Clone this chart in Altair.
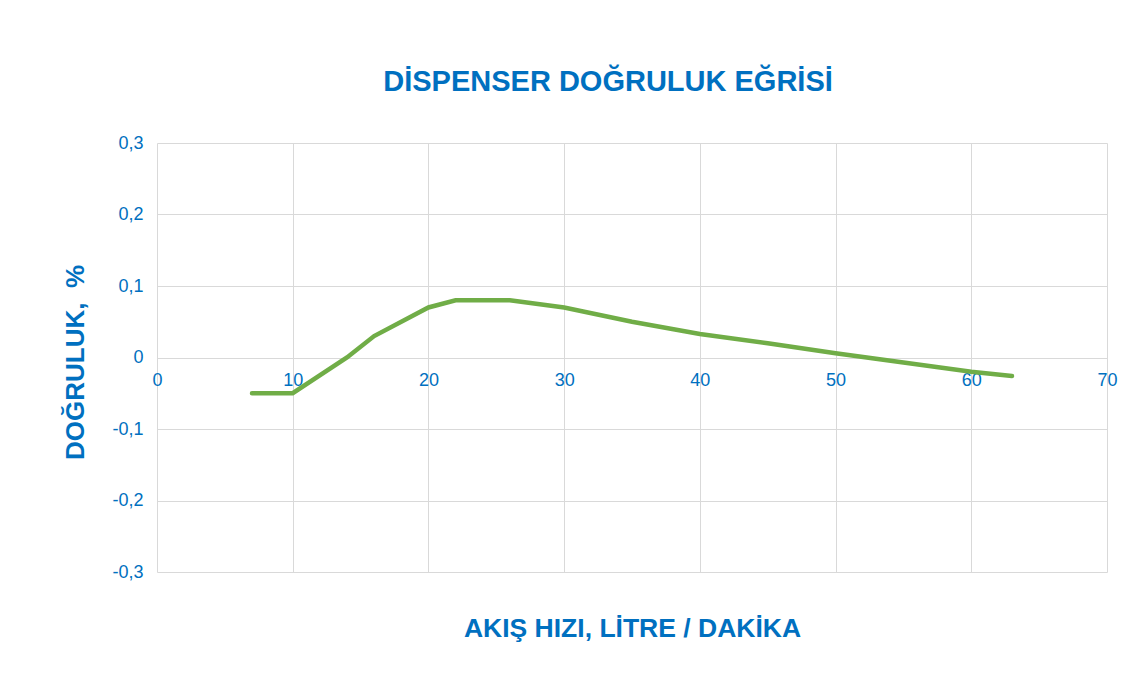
import altair as alt
import pandas as pd

flow = [7, 10, 14, 16, 20, 22, 26, 30, 35, 40, 45, 50, 55, 60, 63]
accuracy = [-0.05, -0.05, 0.0, 0.03, 0.07, 0.08, 0.08, 0.07, 0.05, 0.033, 0.02, 0.006, -0.007, -0.02, -0.026]
x_ticks = [0, 10, 20, 30, 40, 50, 60, 70]
y_ticks = [-0.3, -0.2, -0.1, 0.0, 0.1, 0.2, 0.3]

df = pd.DataFrame({"flow": flow, "acc": accuracy})

BLUE = "#0070C0"
GRID = "#D9D9D9"
FONT = "Liberation Sans, Arial, sans-serif"

y_label_expr = ("abs(datum.value) < 1e-9 ? '0' : "
                "replace(replace(format(datum.value, '.1f'), '.', ','), '\u2212', '-')")

chart = alt.Chart(df).mark_line(strokeWidth=4.5, color="#70AD47", strokeCap="round").encode(
    x=alt.X("flow:Q", scale=alt.Scale(domain=[0, 70], nice=False),
            axis=alt.Axis(values=x_ticks, grid=True, gridColor=GRID, gridWidth=1,
                          domain=False, ticks=False, labels=True, labelColor=BLUE,
                          labelFont=FONT, labelFontSize=18, labelPadding=14,
                          labelFlush=False, labelOverlap=False,
                          offset=-214.5, title="AKIŞ HIZI, LİTRE / DAKİKA",
                          titleFont=FONT, titleFontSize=26.5, titleColor=BLUE,
                          titleFontWeight="bold", titlePadding=0,
                          titleBaseline="middle", titleY=271)),
    y=alt.Y("acc:Q", scale=alt.Scale(domain=[-0.3, 0.3], nice=False),
            axis=alt.Axis(values=y_ticks, grid=True, gridColor=GRID, gridWidth=1,
                          domain=False, ticks=False, labelExpr=y_label_expr,
                          labelColor=BLUE, labelFont=FONT, labelFontSize=18,
                          labelPadding=14, title="DOĞRULUK,\u00a0\u00a0%",
                          titleFont=FONT, titleFontSize=26, titleColor=BLUE,
                          titleFontWeight="bold", titleBaseline="middle",
                          titleX=-82, titleY=219)),
).properties(
    width=950,
    height=429,
    padding={"left": 149, "top": 135, "right": 21, "bottom": 101},
    autosize=alt.AutoSizeParams(type="none"),
    title=alt.TitleParams("DİSPENSER DOĞRULUK EĞRİSİ", font=FONT, fontSize=29,
                          fontWeight="bold", color=BLUE, anchor="middle",
                          dx=-24, offset=37),
).configure_view(stroke=None)

chart.save("out.html", embed_options={"renderer": "svg", "actions": False})
